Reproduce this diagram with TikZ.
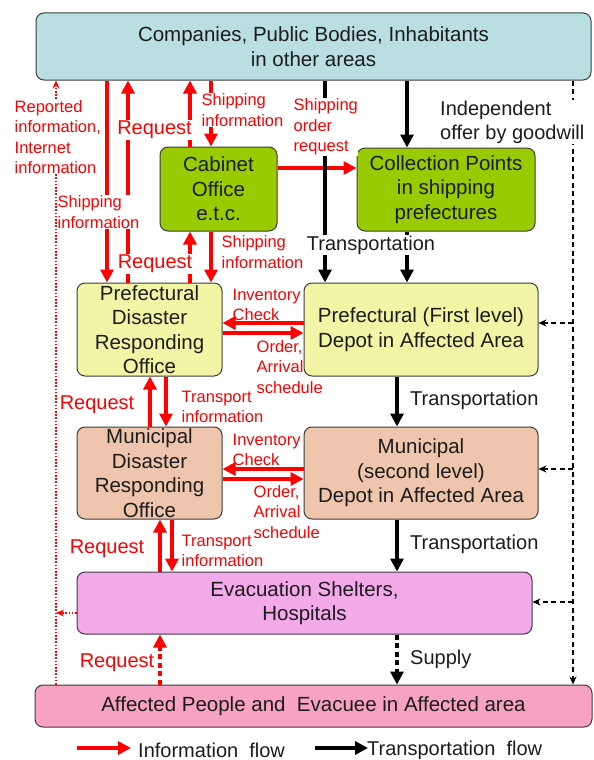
\documentclass[tikz,border=0pt]{standalone}
\usepackage{fontspec}
\setmainfont{Liberation Sans}
\usetikzlibrary{arrows.meta}
\definecolor{topfill}{HTML}{B9DFE3}
\definecolor{greenfill}{HTML}{99CC00}
\definecolor{yelfill}{HTML}{F2F5A6}
\definecolor{salfill}{HTML}{EFC5AD}
\definecolor{violfill}{HTML}{F3A9EA}
\definecolor{pinkfill}{HTML}{F7A2C2}
\definecolor{boxline}{HTML}{3C3C3C}
\definecolor{txt}{HTML}{1C1C1C}
\definecolor{redc}{HTML}{FF0000}
\newcommand\fBox{\fontsize{20.5}{24.5}\selectfont}
\newcommand\fRed{\fontsize{16.5}{20.5}\selectfont}
\newcommand\fBig{\fontsize{20}{24}\selectfont}
\begin{document}
\begin{tikzpicture}[x=1pt,y=-1pt,
  box/.style={draw=boxline, line width=1pt, rounded corners=8pt, align=center,
    inner sep=0pt, font=\fBox, text=txt},
  redarr/.style={draw=redc, line width=4.5pt, -{Triangle[length=13pt,width=13pt]}},
  blkarr/.style={draw=black, line width=4.5pt, -{Triangle[length=13pt,width=13pt]}},
  thickdots/.style={dash pattern=on 5pt off 3.5pt},
  reddot/.style={draw=redc, line width=1.4pt, dash pattern=on 1.6pt off 1.6pt},
  blkdash/.style={draw=black, line width=1.1pt, dash pattern=on 5pt off 3.5pt},
  smalltip/.style={-{Stealth[length=8pt,width=7pt]}},
  redlbl/.style={text=redc, font=\fRed, align=left, inner sep=0.5pt},
  reqlbl/.style={text=redc, font=\fBig, inner sep=1pt},
  blklbl/.style={text=txt, font=\fBig, align=left, inner sep=1pt},
  wbg/.style={fill=white}]
\useasboundingbox (0,0) rectangle (594,760);
% x positions of vertical connectors
\coordinate (cA) at (107,0);
\coordinate (cB) at (128,0);
\coordinate (cC) at (190,0);
\coordinate (cD) at (211,0);
\coordinate (cE) at (325,0);
\coordinate (cF) at (407,0);
\coordinate (cG) at (150,0);
\coordinate (cH) at (166,0);
\coordinate (cI) at (160,0);
\coordinate (cJ) at (172,0);
\coordinate (cK) at (397,0);
\coordinate (cL) at (56,0);
\coordinate (cM) at (573,0);
% y positions of horizontal connectors
\coordinate (yCab) at (0,168);
\coordinate (yP1) at (0,323);
\coordinate (yP2) at (0,333);
\coordinate (yM1) at (0,469);
\coordinate (yM2) at (0,479);
% boxes
\node[box, fill=topfill, minimum width=555pt, minimum height=67pt] (top) at (313.5,46.5)
  {Companies, Public Bodies, Inhabitants\\in other areas};
\node[box, fill=greenfill, minimum width=117pt, minimum height=84pt] (cab) at (218.5,189)
  {Cabinet\\Office\\e.t.c.};
\node[box, fill=greenfill, minimum width=178pt, minimum height=83pt] (coll) at (446,189.5)
  {Collection Points\\in shipping\\prefectures};
\node[box, fill=yelfill, minimum width=145pt, minimum height=93pt] (pdro) at (149.5,329.5)
  {Prefectural\\Disaster\\Responding\\Office};
\node[box, fill=yelfill, minimum width=234pt, minimum height=93pt] (pdep) at (421,329.5)
  {Prefectural (First level)\\Depot in Affected Area};
\node[box, fill=salfill, minimum width=145pt, minimum height=92pt] (mdro) at (149.5,473)
  {Municipal\\Disaster\\Responding\\Office};
\node[box, fill=salfill, minimum width=234pt, minimum height=92pt] (mdep) at (421,473)
  {Municipal\\(second level)\\Depot in Affected Area};
\node[box, fill=violfill, minimum width=455pt, minimum height=62pt] (shel) at (304.5,603)
  {Evacuation Shelters,\\Hospitals};
\node[box, fill=pinkfill, minimum width=557pt, minimum height=42pt] (aff) at (313.5,706)
  {Affected People and\ \ Evacuee in Affected area};
% junctions
\coordinate (jL) at (56,613);
\coordinate (jR1) at (573,323);
\coordinate (jR2) at (573,469);
\coordinate (jR3) at (573,602);
% thin dotted / dashed side lines
\draw[reddot, smalltip] (aff.north -| cL) -- (top.south -| cL);
\draw[reddot, smalltip] (shel.west |- jL) -- (jL);
\draw[blkdash, smalltip] (top.south -| cM) -- (aff.north -| cM);
\draw[blkdash, smalltip] (jR1) -- (pdep.east |- jR1);
\draw[blkdash, smalltip] (jR2) -- (mdep.east |- jR2);
\draw[blkdash, smalltip] (jR3) -- (shel.east |- jR3);
% red information arrows
\draw[redarr] (top.south -| cA) -- (pdro.north -| cA);
\draw[redarr] (pdro.north -| cB) -- (top.south -| cB);
\draw[redarr] (cab.north -| cC) -- (top.south -| cC);
\draw[redarr] (top.south -| cD) -- (cab.north -| cD);
\draw[redarr] (pdro.north -| cC) -- (cab.south -| cC);
\draw[redarr] (cab.south -| cD) -- (pdro.north -| cD);
\draw[redarr] (cab.east |- yCab) -- (coll.west |- yCab);
\draw[redarr] (pdep.west |- yP1) -- (pdro.east |- yP1);
\draw[redarr] (pdro.east |- yP2) -- (pdep.west |- yP2);
\draw[redarr] (mdep.west |- yM1) -- (mdro.east |- yM1);
\draw[redarr] (mdro.east |- yM2) -- (mdep.west |- yM2);
\draw[redarr] (mdro.north -| cG) -- (pdro.south -| cG);
\draw[redarr] (pdro.south -| cH) -- (mdro.north -| cH);
\draw[redarr] (shel.north -| cI) -- (mdro.south -| cI);
\draw[redarr] (mdro.south -| cJ) -- (shel.north -| cJ);
\draw[redarr, thickdots] (aff.north -| cI) -- (shel.south -| cI);
% black transportation arrows
\draw[blkarr] (top.south -| cE) -- (pdep.north -| cE);
\draw[blkarr] (top.south -| cF) -- (coll.north -| cF);
\draw[blkarr] (coll.south -| cF) -- (pdep.north -| cF);
\draw[blkarr] (pdep.south -| cK) -- (mdep.north -| cK);
\draw[blkarr] (mdep.south -| cK) -- (shel.north -| cK);
\draw[blkarr, thickdots] (shel.south -| cK) -- (aff.north -| cK);
% labels
\node[redlbl, wbg, anchor=west] (lRep) at (14,137) {Reported\\information,\\Internet\\information};
\node[reqlbl, wbg] (lReq1) at (154.5,130) {Request};
\node[redlbl, wbg, anchor=west] (lShip1) at (201,110) {Shipping\\information};
\node[redlbl, wbg, anchor=west] (lOrd) at (293,127) {Shipping\\order\\request};
\node[redlbl, wbg, anchor=west] (lShip2) at (57,212) {Shipping\\information};
\node[reqlbl, wbg] (lReq2) at (155,264) {Request};
\node[redlbl, wbg, anchor=west] (lShip3) at (221,252) {Shipping\\information};
\node[blklbl, wbg] (lTr1) at (371,245) {Transportation};
\node[blklbl, wbg, anchor=west] (lInd) at (439,122) {Independent\\offer by goodwill};
\node[redlbl, anchor=west] (lInv1) at (232,305) {Inventory\\Check};
\node[redlbl, anchor=west] (lOa1) at (256,367) {Order,\\Arrival\\schedule};
\node[redlbl, anchor=west] (lInv2) at (232,450) {Inventory\\Check};
\node[redlbl, anchor=west] (lOa2) at (253,512) {Order,\\Arrival\\schedule};
\node[reqlbl] (lReq3) at (97,405) {Request};
\node[redlbl, anchor=west] (lTi1) at (181,407) {Transport\\information};
\node[blklbl, anchor=west] (lTr2) at (409,400) {Transportation};
\node[reqlbl] (lReq4) at (107,549) {Request};
\node[redlbl, anchor=west] (lTi2) at (181,551) {Transport\\information};
\node[blklbl, anchor=west] (lTr3) at (409,544) {Transportation};
\node[blklbl, anchor=west] (lSup) at (409,659) {Supply};
\node[reqlbl] (lReq5) at (117,663) {Request};
% legend
\coordinate (lgA) at (77,748);
\coordinate (lgB) at (131,748);
\coordinate (lgC) at (315,748);
\coordinate (lgD) at (368,748);
\draw[redarr] (lgA) -- (lgB);
\draw[blkarr] (lgC) -- (lgD);
\node[blklbl, anchor=west] (lgI) at (137,750) {Information\ \ flow};
\node[blklbl, anchor=west] (lgT) at (366,750) {Transportation\ \ flow};
\end{tikzpicture}
\end{document}
